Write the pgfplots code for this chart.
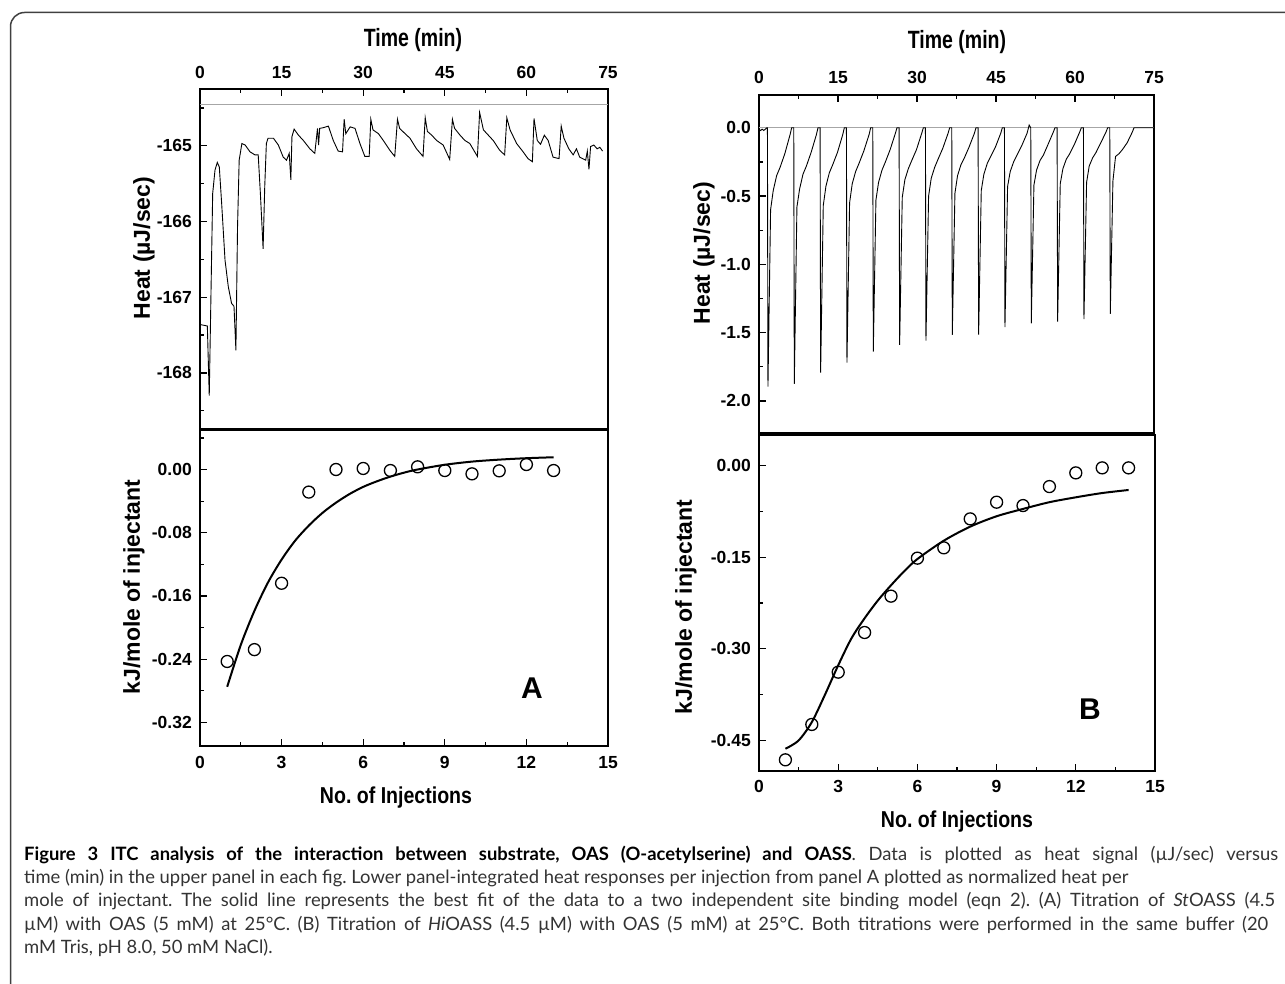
\documentclass[border=0pt]{standalone}
\usepackage{fontspec}
\usepackage{pgfplots}
\pgfplotsset{compat=1.18}
\setmainfont{Liberation Sans}
\newfontfamily\capfont{Lato}
\newcommand{\tickfont}{\fontsize{17.5}{17.5}\selectfont\bfseries}
\newcommand{\labfont}{\fontsize{23}{23}\selectfont\bfseries}
\frenchspacing

\pgfplotsset{
  itc/.style={
    scale only axis, anchor=north west,
    tick align=inside,
    axis line style={line width=1.5pt},
    tick style={line width=1.2pt, black},
    major tick length=7pt, minor tick length=4pt,
    ticklabel style={font=\tickfont, inner sep=0pt},
    yticklabel style={xshift=-8pt},
    ytick pos=left,
  },
  trace/.style={black, line width=0.9pt},
  fit/.style={black, line width=2pt, smooth},
  pts/.style={only marks, mark=o, mark size=6pt, mark options={line width=1.3pt, black}},
}

\begin{document}
\begin{tikzpicture}
\useasboundingbox (0pt,0pt) rectangle (1285pt,-984pt);

% frame round the figure, open at the right and the bottom
\begin{scope}
\clip (0pt,0pt) rectangle (1285pt,-984pt);
\draw[line width=1.5pt, black!75, rounded corners=14pt]
  (10.5pt,-1100pt) -- (10.5pt,-12.5pt) -- (1400pt,-12.5pt);
\end{scope}

% ---------- A, upper panel: raw heat signal ----------
\begin{axis}[itc, at={(200pt,-89pt)}, width=408pt, height=340pt,
  xmin=0, xmax=75, ymin=-168.74, ymax=-164.25,
  xtick={0,15,30,45,60,75}, xticklabels={0,15,30,45,60,75},
  minor xtick={7.5,22.5,37.5,52.5,67.5},
  xtick pos=upper, xticklabel pos=upper,
  xticklabel style={yshift=10pt},
  ytick={-168,-167,-166,-165}, yticklabels={-168,-167,-166,-165},
  minor ytick={-168.5,-167.5,-166.5,-165.5,-164.5}]
\addplot[gray!70, line width=1pt] coordinates {(0,-164.46) (75,-164.46)};
\addplot[trace] coordinates {
 (0,-167.36) (1.35,-167.38) (1.7,-168.30) (2.33,-165.63) (2.76,-165.32)
 (3.18,-165.22) (3.55,-165.28) (3.98,-165.76) (4.6,-166.51) (5.2,-166.86)
 (5.8,-167.08) (6.25,-167.12) (6.6,-167.70) (6.9,-166.07) (7.2,-165.19)
 (7.7,-164.97) (8.3,-164.99) (9.2,-165.08) (10.1,-165.12) (10.7,-165.12)
 (11.1,-165.63) (11.6,-166.36) (11.9,-165.54) (12.2,-164.97) (12.5,-164.90)
 (13.5,-164.90) (14.4,-164.99) (15.3,-165.15) (15.9,-165.19) (16.4,-165.10)
 (16.7,-165.45) (16.9,-164.88) (17.3,-164.78) (18.1,-164.86) (19.0,-164.93)
 (20.2,-165.04) (21.1,-165.10) (21.6,-164.77) (21.8,-164.99) (22.0,-164.77)
 (22.7,-164.76) (23.6,-164.74) (24.5,-164.93) (25.4,-165.07) (26.2,-165.08)
 (26.5,-164.65) (26.8,-164.84) (27.6,-164.75) (28.5,-164.77) (29.4,-164.97)
 (30.3,-165.14) (31.1,-165.14) (31.4,-164.65) (31.8,-164.79) (32.8,-164.84)
 (33.7,-164.93) (34.9,-165.06) (35.8,-165.14) (36.3,-164.65) (36.7,-164.77)
 (37.7,-164.84) (38.6,-164.90) (39.8,-165.04) (41.0,-165.14) (41.4,-164.63)
 (41.8,-164.81) (42.6,-164.86) (43.5,-164.93) (44.7,-164.99) (45.9,-165.18)
 (46.4,-164.65) (46.8,-164.77) (47.8,-164.86) (48.7,-164.93) (49.6,-164.97)
 (50.5,-165.08) (51.0,-165.14) (51.4,-164.56) (52.1,-164.79) (53.0,-164.86)
 (53.9,-164.93) (55.1,-165.06) (56.0,-165.12) (56.4,-164.63) (57.0,-164.79)
 (58.2,-164.97) (59.4,-165.08) (60.3,-165.17) (61.1,-165.21) (61.4,-164.64)
 (62.0,-164.93) (62.6,-164.98) (63.3,-164.86) (64.0,-164.93) (64.9,-165.15)
 (66.0,-165.17) (66.4,-164.74) (66.9,-164.90) (67.8,-165.04) (68.6,-165.12)
 (69.2,-165.04) (69.8,-165.15) (70.9,-165.19) (71.2,-165.07) (71.5,-165.31)
 (71.8,-165.01) (72.4,-164.99) (73.0,-165.04) (73.5,-165.02) (74.0,-165.07)};
\end{axis}

% ---------- A, lower panel: integrated heats ----------
\begin{axis}[itc, at={(200pt,-430pt)}, width=408pt, height=316pt,
  xmin=0, xmax=15, ymin=-0.35, ymax=0.05,
  xtick={0,3,6,9,12,15}, xticklabels={0,3,6,9,12,15},
  minor xtick={1.5,4.5,7.5,10.5,13.5},
  xtick pos=lower, xticklabel style={yshift=-10pt},
  ytick={-0.32,-0.24,-0.16,-0.08,0}, yticklabels={-0.32,-0.24,-0.16,-0.08,0.00},
  minor ytick={-0.28,-0.20,-0.12,-0.04,0.04}]
\addplot[fit] coordinates {
 (1,-0.275) (1.5,-0.222) (2,-0.179) (2.5,-0.143) (3,-0.114) (3.5,-0.090)
 (4,-0.071) (4.5,-0.055) (5,-0.042) (5.5,-0.031) (6,-0.022) (6.5,-0.015)
 (7,-0.009) (7.5,-0.004) (8,0.000) (9,0.006) (10,0.010) (11,0.0125)
 (12,0.0143) (13,0.0155)};
\addplot[pts] coordinates {
 (1,-0.243) (2,-0.228) (3,-0.144) (4,-0.0286) (5,0.0) (6,0.0013)
 (7,-0.0013) (8,0.0034) (9,-0.0013) (10,-0.0055) (11,-0.0017)
 (12,0.0063) (13,-0.0013)};
\end{axis}

% ---------- B, upper panel: raw heat signal ----------
\begin{axis}[itc, at={(759pt,-95pt)}, width=395pt, height=338pt,
  xmin=0, xmax=75, ymin=-2.235, ymax=0.24,
  xtick={0,15,30,45,60,75}, xticklabels={0,15,30,45,60,75},
  minor xtick={7.5,22.5,37.5,52.5,67.5},
  xtick pos=upper, xticklabel pos=upper,
  xticklabel style={yshift=11pt},
  ytick={-2,-1.5,-1,-0.5,0}, yticklabels={-2.0,-1.5,-1.0,-0.5,0.0},
  minor ytick={-1.75,-1.25,-0.75,-0.25}]
\addplot[gray!70, line width=1pt] coordinates {(0,0) (75,0)};
\addplot[trace] coordinates {
 (0,-0.01) (0.3,-0.02) (0.6,-0.01) (0.9,-0.02) (1.2,-0.01) (1.5,0)
 (1.6,0) (1.7,-1.895) (2.2,-0.60) (2.7,-0.46) (3.35,-0.35) (4.0,-0.29) (4.9,-0.19) (5.9,-0.05) (6.2,0)
 (6.6,0) (6.7,-1.876) (7.2,-0.58) (7.7,-0.45) (8.35,-0.34) (9.0,-0.28) (9.9,-0.18) (10.9,-0.05) (11.2,0)
 (11.6,0) (11.7,-1.793) (12.2,-0.57) (12.7,-0.43) (13.35,-0.33) (14.0,-0.27) (14.9,-0.18) (15.9,-0.05) (16.2,0)
 (16.6,0) (16.7,-1.720) (17.2,-0.55) (17.7,-0.41) (18.35,-0.32) (19.0,-0.26) (19.9,-0.17) (20.9,-0.05) (21.2,0)
 (21.6,0) (21.7,-1.639) (22.2,-0.53) (22.7,-0.40) (23.35,-0.31) (24.0,-0.25) (24.9,-0.16) (25.9,-0.04) (26.2,0)
 (26.6,0) (26.7,-1.590) (27.2,-0.51) (27.7,-0.38) (28.35,-0.30) (29.0,-0.24) (29.9,-0.16) (30.9,-0.04) (31.2,0)
 (31.6,0) (31.7,-1.559) (32.2,-0.50) (32.7,-0.37) (33.35,-0.29) (34.0,-0.23) (34.9,-0.15) (35.9,-0.04) (36.2,0)
 (36.6,0) (36.7,-1.517) (37.2,-0.48) (37.7,-0.35) (38.35,-0.27) (39.0,-0.22) (39.9,-0.14) (40.9,-0.04) (41.2,0)
 (41.6,0) (41.7,-1.515) (42.2,-0.46) (42.7,-0.34) (43.35,-0.26) (44.0,-0.21) (44.9,-0.14) (45.9,-0.04) (46.2,0)
 (46.6,0) (46.7,-1.459) (47.2,-0.43) (47.7,-0.32) (48.35,-0.25) (49.0,-0.20) (49.9,-0.13) (50.9,-0.04) (51.3,0.02)
 (51.6,0) (51.7,-1.432) (52.2,-0.42) (52.7,-0.31) (53.35,-0.24) (54.0,-0.20) (54.9,-0.12) (55.9,-0.03) (56.2,0)
 (56.6,0) (56.7,-1.420) (57.2,-0.41) (57.7,-0.30) (58.35,-0.23) (59.0,-0.19) (59.9,-0.12) (60.9,-0.03) (61.2,0)
 (61.6,0) (61.7,-1.401) (62.2,-0.40) (62.7,-0.28) (63.35,-0.22) (64.0,-0.18) (64.9,-0.11) (65.9,-0.03) (66.2,0)
 (66.6,0) (66.7,-1.363) (67.2,-0.39) (67.7,-0.21) (68.35,-0.19) (69.0,-0.16) (69.9,-0.11) (70.9,-0.03) (71.2,0)
 (75,0)};
\end{axis}

% ---------- B, lower panel: integrated heats ----------
\begin{axis}[itc, at={(759pt,-435pt)}, width=396pt, height=336pt,
  xmin=0, xmax=15, ymin=-0.5, ymax=0.05,
  xtick={0,3,6,9,12,15}, xticklabels={0,3,6,9,12,15},
  minor xtick={1.5,4.5,7.5,10.5,13.5},
  xtick pos=lower, xticklabel style={yshift=-9pt},
  ytick={-0.45,-0.30,-0.15,0}, yticklabels={-0.45,-0.30,-0.15,0.00},
  minor ytick={-0.375,-0.225,-0.075}]
\addplot[fit] coordinates {
 (1,-0.4636) (1.5,-0.450) (2,-0.420) (2.5,-0.375) (3,-0.327) (3.5,-0.283)
 (4,-0.250) (4.5,-0.221) (5,-0.196) (5.5,-0.173) (6,-0.153) (7,-0.123)
 (8,-0.100) (9,-0.083) (10,-0.071) (11,-0.060) (12,-0.052) (13,-0.045)
 (14,-0.040)};
\addplot[pts] coordinates {
 (1,-0.4817) (2,-0.4238) (3,-0.3382) (4,-0.2733) (5,-0.2138) (6,-0.1516)
 (7,-0.1347) (8,-0.0873) (9,-0.0600) (10,-0.0655) (11,-0.0344)
 (12,-0.0120) (13,-0.0038) (14,-0.0038)};
\end{axis}

% ---------- axis titles and panel letters ----------
\node[font=\fontsize{25}{25}\selectfont\bfseries, xscale=0.78] at (413pt,-40pt) {Time (min)};
\node[font=\fontsize{25}{25}\selectfont\bfseries, xscale=0.78] at (957pt,-42pt) {Time (min)};
\node[font=\labfont, rotate=90] at (144pt,-248pt) {Heat (µJ/sec)};
\node[font=\labfont, rotate=90] at (704pt,-253pt) {Heat (µJ/sec)};
\node[font=\labfont, rotate=90] at (134pt,-587pt) {kJ/mole of injectant};
\node[font=\labfont, rotate=90] at (686pt,-607pt) {kJ/mole of injectant};
\node[font=\labfont, xscale=0.85] at (396pt,-798pt) {No. of Injections};
\node[font=\labfont, xscale=0.85] at (957pt,-822pt) {No. of Injections};
\node[font=\fontsize{30}{30}\selectfont\bfseries] at (532pt,-688pt) {A};
\node[font=\fontsize{30}{30}\selectfont\bfseries] at (1090pt,-709pt) {B};

% ---------- caption ----------
\begin{scope}[every node/.style={anchor=base west, inner sep=0pt,
    font=\capfont\fontsize{18.4}{18.4}\selectfont, text=black!80}]
\node at (24pt,-860pt) {\makebox[1254pt][s]{\textcolor{black}{\bfseries Figure 3 ITC analysis of the interaction between substrate, OAS (O-acetylserine) and OASS}. Data is plotted as heat signal (µJ/sec) versus}};
\node at (24pt,-883.3pt) {time (min) in the upper panel in each fig. Lower panel-integrated heat responses per injection from panel A plotted as normalized heat per};
\node at (24pt,-906.6pt) {\makebox[1251pt][s]{mole of injectant. The solid line represents the best fit of the data to a two independent site binding model (eqn 2). (A) Titration of \textit{St}OASS (4.5}};
\node at (24pt,-930pt) {\makebox[1244pt][s]{µM) with OAS (5 mM) at 25°C. (B) Titration of \textit{Hi}OASS (4.5 µM) with OAS (5 mM) at 25°C. Both titrations were performed in the same buffer (20}};
\node at (24pt,-953.3pt) {mM Tris, pH 8.0, 50 mM NaCl).};
\end{scope}
\end{tikzpicture}
\end{document}
